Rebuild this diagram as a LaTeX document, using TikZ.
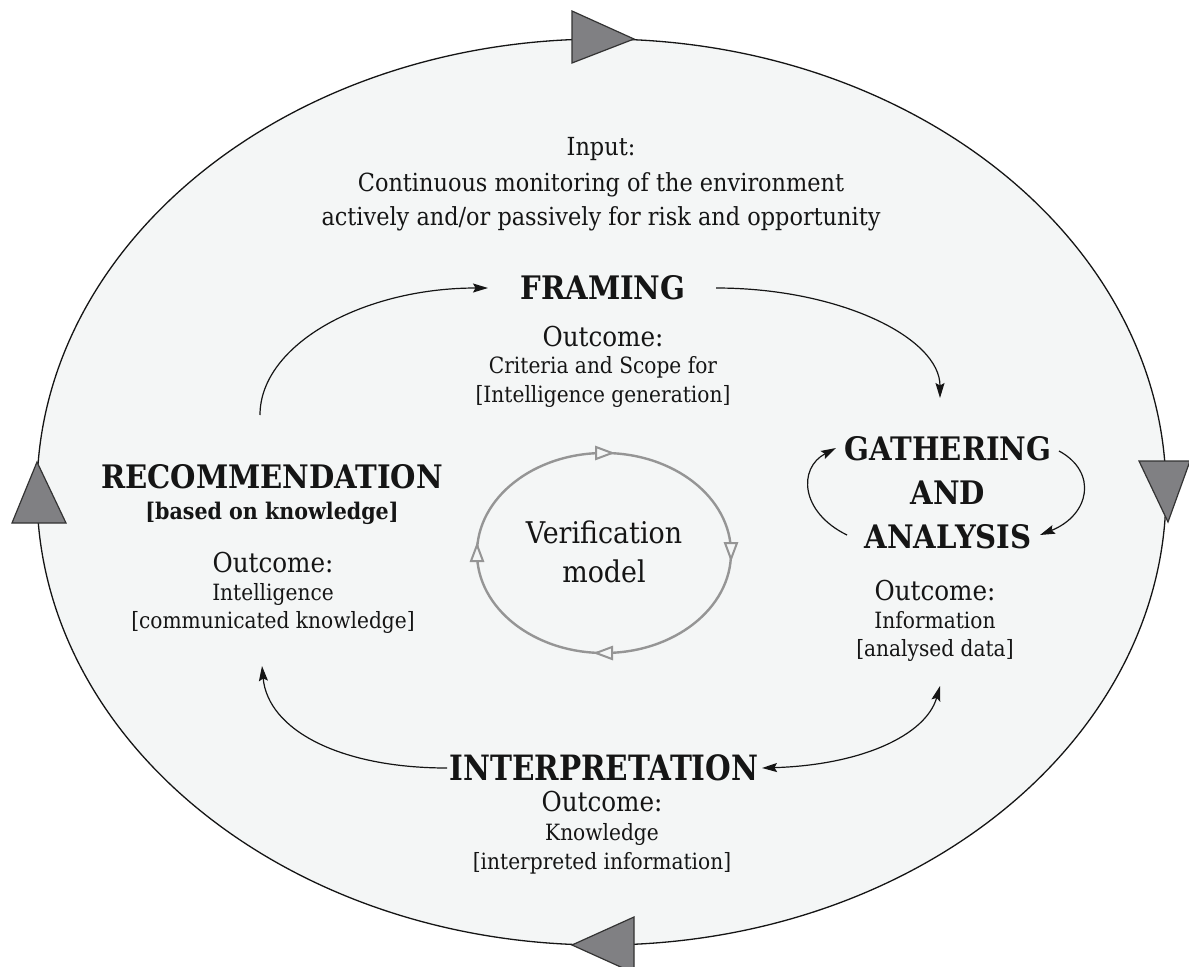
\documentclass[tikz,border=0pt]{standalone}
\usepackage{fontspec}
\setmainfont{DejaVu Serif}[FakeStretch=0.9]
\usetikzlibrary{arrows.meta}
\definecolor{panel}{HTML}{F4F6F6}
\definecolor{marker}{HTML}{808083}
\definecolor{vgray}{HTML}{959595}
\definecolor{ink}{HTML}{151515}

\begin{document}
\begin{tikzpicture}[x=1bp,y=-1bp,
  title/.style={font=\fontsize{32.5}{36}\selectfont\bfseries, text=ink, inner sep=0, anchor=base},
  subtitle/.style={font=\fontsize{23}{26}\selectfont\bfseries, text=ink, inner sep=0, anchor=base},
  outc/.style={font=\fontsize{27.5}{30}\selectfont, text=ink, inner sep=0, anchor=base},
  subline/.style={font=\fontsize{22.5}{26}\selectfont, text=ink, inner sep=0, anchor=base},
  inp/.style={font=\fontsize{25}{28}\selectfont, text=ink, inner sep=0, anchor=base},
  verif/.style={font=\fontsize{30}{34}\selectfont, text=ink, inner sep=0, anchor=base},
  tip/.tip={Stealth[length=15bp,width=9bp,inset=2.5bp]},
  flow/.style={draw=ink, line width=1.2bp, -tip},
  bigtri/.style={draw=black!80, fill=marker, line width=1.2bp, line join=miter},
  vline/.style={draw=vgray, line width=2.4bp},
  otri/.pic={\draw[vgray, fill=panel, line width=2bp, line join=miter] (-8,-6) -- (8,0) -- (-8,6) -- cycle;}
]
\useasboundingbox (0,0) rectangle (1189,967);
\fill[white] (0,0) rectangle (1189,967);

% outer cycle
\draw[fill=panel, draw=ink, line width=1.3bp] (601.5,492) ellipse [x radius=564.5bp, y radius=453bp];
\draw[bigtri] (572,11) -- (634,39) -- (572,63) -- cycle;
\draw[bigtri] (1139,461) -- (1190,461) -- (1168,522) -- cycle;
\draw[bigtri] (634,917) -- (572,945) -- (634,973) -- cycle;
\draw[bigtri] (37,462) -- (66,523) -- (12,523) -- cycle;

% input text
\node[inp] (in0) at (601,155) {Input:};
\node[inp] (in1) at (601,191) {Continuous monitoring of the environment};
\node[inp] (in2) at (601,225) {actively and/or passively for risk and opportunity};

% framing
\node[title] (fr) at (603,299) {FRAMING};
\node[outc] (fro) at (603,346) {Outcome:};
\node[subline] (fr1) at (603,373) {Criteria and Scope for};
\node[subline] (fr2) at (603,402) {[Intelligence generation]};

% gathering and analysis
\node[title] (ga1) at (948,460) {GATHERING};
\node[title] (ga2) at (948,504) {AND};
\node[title] (ga3) at (948,548) {ANALYSIS};
\node[outc] (gao) at (935,600) {Outcome:};
\node[subline] (ga4) at (935,628) {Information};
\node[subline] (ga5) at (935,656) {[analysed data]};

% recommendation
\node[title] (rec) at (272,488) {RECOMMENDATION};
\node[subtitle] (recb) at (272,519) {[based on knowledge]};
\node[outc] (reco) at (273,572) {Outcome:};
\node[subline] (rec1) at (273,600) {Intelligence};
\node[subline] (rec2) at (273,628) {[communicated knowledge]};

% interpretation
\node[title, font=\fontsize{35}{40}\selectfont\bfseries] (int) at (604,780) {\scalebox{0.94}[1]{INTERPRETATION}};
\node[outc] (into) at (602,811) {Outcome:};
\node[subline] (int1) at (602,840) {Knowledge};
\node[subline] (int2) at (602,869) {[interpreted information]};

% verification model
\draw[vline] (604,553) ellipse [x radius=127bp, y radius=100bp];
\pic at (604,453) {otri};
\pic[rotate=-90] at (731,551) {otri};
\pic[rotate=180] at (604,653) {otri};
\pic[rotate=90] at (477,553) {otri};
\node[verif] (vm1) at (604,543) {Verification};
\node[verif] (vm2) at (604,582) {model};

% connector end points
\coordinate (recTop) at (260,415);
\coordinate (frIn) at (488,288);
\coordinate (frOut) at (716,288);
\coordinate (gaIn) at (940,398);
\coordinate (gaL0) at (847,535);
\coordinate (gaL1) at (836,448);
\coordinate (gaR0) at (1059,451);
\coordinate (gaR1) at (1040,535);
\coordinate (gaOut) at (940,686);
\coordinate (intR) at (762,768);
\coordinate (intL) at (447,768);
\coordinate (recIn) at (262,666);

% cycle arrows
\draw[flow] (recTop) .. controls (260,345) and (362,288) .. (frIn);
\draw[flow] (frOut) .. controls (840,288) and (940,338) .. (gaIn);
\draw[flow] (gaL0) .. controls (800,512) and (798,468) .. (gaL1);
\draw[flow] (gaR0) .. controls (1098,472) and (1090,515) .. (gaR1);
\draw[flow, tip-tip] (intR) .. controls (862,765) and (926,735) .. (gaOut);
\draw[flow] (intL) .. controls (340,768) and (268,730) .. (recIn);
\end{tikzpicture}
\end{document}
